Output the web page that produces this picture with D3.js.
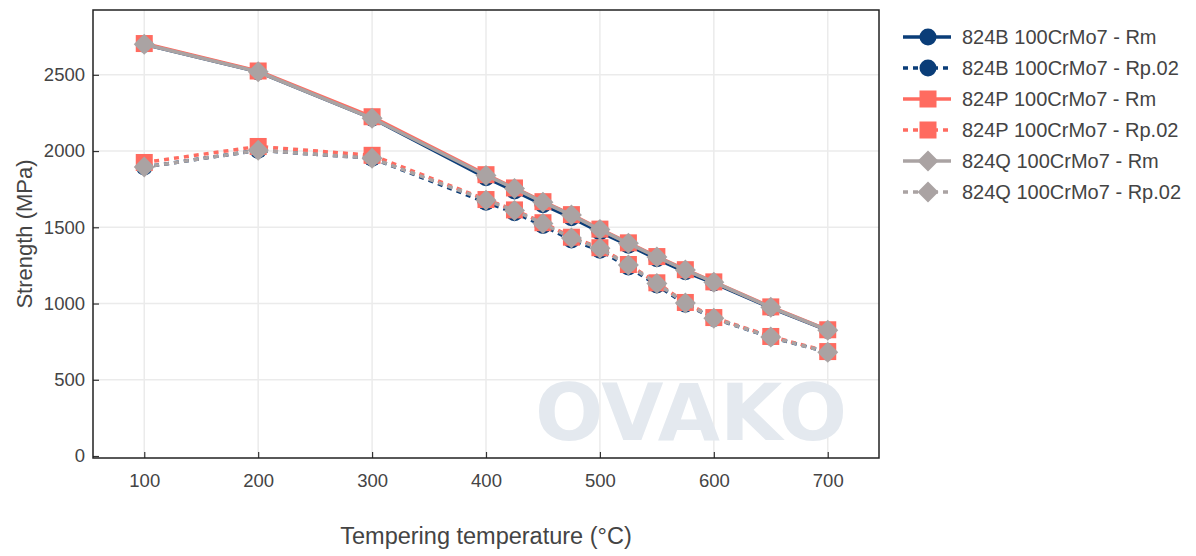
<!DOCTYPE html>
<html>
<head>
<meta charset="utf-8">
<script src="https://cdn.jsdelivr.net/npm/d3@7"></script>
<style>
  body { margin: 0; background: #fff; }
  text { font-family: "Liberation Sans", Arial, sans-serif; }
</style>
</head>
<body>
<div id="chart"></div>
<script>
// data
var temps = [100, 200, 300, 400, 425, 450, 475, 500, 525, 550, 575, 600, 650, 700];

var bRm   = [2700, 2520, 2215, 1825, 1738, 1648, 1563, 1470, 1382, 1293, 1208, 1134, 972, 824];
var bRp02 = [1895, 2005, 1953, 1664, 1596, 1512, 1416, 1349, 1240, 1122, 996, 902, 779, 681];
var pRm   = [2705, 2525, 2225, 1845, 1758, 1668, 1583, 1488, 1398, 1308, 1222, 1142, 978, 828];
var pRp02 = [1925, 2030, 1972, 1682, 1614, 1530, 1435, 1366, 1256, 1136, 1007, 908, 784, 685];
var qRm   = [2700, 2520, 2215, 1840, 1755, 1665, 1580, 1485, 1395, 1305, 1220, 1140, 975, 825];
var qRp02 = [1895, 2005, 1953, 1678, 1610, 1525, 1430, 1362, 1252, 1132, 1003, 904, 780, 681];

var xTicks = [100, 200, 300, 400, 500, 600, 700];
var yTicks = [0, 500, 1000, 1500, 2000, 2500];

var series = [
  { name: "824B 100CrMo7 - Rm",    values: bRm,   color: "#0a3d78", symbol: "circle",  dotted: false },
  { name: "824B 100CrMo7 - Rp.02", values: bRp02, color: "#0a3d78", symbol: "circle",  dotted: true },
  { name: "824P 100CrMo7 - Rm",    values: pRm,   color: "#ff6b60", symbol: "square",  dotted: false },
  { name: "824P 100CrMo7 - Rp.02", values: pRp02, color: "#ff6b60", symbol: "square",  dotted: true },
  { name: "824Q 100CrMo7 - Rm",    values: qRm,   color: "#aaa3a3", symbol: "diamond", dotted: false },
  { name: "824Q 100CrMo7 - Rp.02", values: qRp02, color: "#aaa3a3", symbol: "diamond", dotted: true }
];

var W = 1196, H = 556;
var plot = { left: 93, top: 10, right: 879, bottom: 458 };

var svg = d3.select("#chart").append("svg")
    .attr("width", W)
    .attr("height", H);

var x = d3.scaleLinear().domain([55, 745]).range([plot.left, plot.right]);
var y = d3.scaleLinear().domain([-13, 2925]).range([plot.bottom, plot.top]);

// gridlines
svg.append("g").selectAll("line").data(xTicks).enter().append("line")
    .attr("x1", function(d) { return x(d); }).attr("x2", function(d) { return x(d); })
    .attr("y1", plot.top).attr("y2", plot.bottom)
    .style("stroke", "#ebebeb").style("stroke-width", 1.5);
svg.append("g").selectAll("line").data(yTicks.filter(function(d) { return d > 0; })).enter().append("line")
    .attr("x1", plot.left).attr("x2", plot.right)
    .attr("y1", function(d) { return y(d); }).attr("y2", function(d) { return y(d); })
    .style("stroke", "#ebebeb").style("stroke-width", 1.5);

// watermark
svg.append("text")
    .attr("x", 691).attr("y", 440)
    .attr("text-anchor", "middle")
    .attr("textLength", 312)
    .attr("lengthAdjust", "spacingAndGlyphs")
    .style("font-family", "'DejaVu Sans', sans-serif")
    .style("font-size", "78px")
    .style("font-weight", "bold")
    .style("fill", "#e4e9ef")
    .text("OVAKO");

// axes (ticks inside)
var xAxis = d3.axisBottom(x).tickValues(xTicks).tickSize(-6).tickPadding(16).tickFormat(d3.format("d"));
var yAxis = d3.axisLeft(y).tickValues(yTicks).tickSize(-6).tickPadding(8).tickFormat(d3.format("d"));

var gx = svg.append("g").attr("transform", "translate(0," + plot.bottom + ")").call(xAxis);
var gy = svg.append("g").attr("transform", "translate(" + plot.left + ",0)").call(yAxis);
[gx, gy].forEach(function(g) {
  g.select(".domain").remove();
  g.selectAll("line").style("stroke", "#333").style("stroke-width", 1.2);
  g.selectAll("text").style("font-size", "18.5px").style("fill", "#444")
    .style("font-family", "'Liberation Sans', Arial, sans-serif");
});

// frame
svg.append("rect")
    .attr("x", plot.left).attr("y", plot.top)
    .attr("width", plot.right - plot.left).attr("height", plot.bottom - plot.top)
    .style("fill", "none").style("stroke", "#222").style("stroke-width", 1.5);

// axis titles
svg.append("text")
    .attr("x", 486).attr("y", 544)
    .attr("text-anchor", "middle")
    .style("font-size", "23.5px").style("fill", "#444")
    .text("Tempering temperature (°C)");
svg.append("text")
    .attr("transform", "translate(32," + ((plot.top + plot.bottom) / 2) + ") rotate(-90)")
    .attr("text-anchor", "middle")
    .style("font-size", "22px").style("fill", "#444")
    .text("Strength (MPa)");

// symbol helper
function drawMarker(g, symbol, cx, cy, color) {
  if (symbol === "circle") {
    g.append("circle").attr("cx", cx).attr("cy", cy).attr("r", 8.5).style("fill", color);
  } else if (symbol === "square") {
    g.append("rect").attr("x", cx - 8.5).attr("y", cy - 8.5).attr("width", 17).attr("height", 17).style("fill", color);
  } else {
    var r = 10.5;
    g.append("path")
      .attr("d", "M" + cx + "," + (cy - r) + "L" + (cx + r) + "," + cy + "L" + cx + "," + (cy + r) + "L" + (cx - r) + "," + cy + "Z")
      .style("fill", color);
  }
}

var line = d3.line()
    .x(function(d, i) { return x(temps[i]); })
    .y(function(d) { return y(d); });

// series
var plotG = svg.append("g");
series.forEach(function(s) {
  var g = plotG.append("g");
  g.append("path")
    .attr("d", line(s.values))
    .style("fill", "none")
    .style("stroke", s.color)
    .style("stroke-width", 3.5)
    .style("stroke-dasharray", s.dotted ? "5,5" : null);
  s.values.forEach(function(v, i) {
    drawMarker(g, s.symbol, x(temps[i]), y(v), s.color);
  });
});

// legend
var legend = svg.append("g");
series.forEach(function(s, i) {
  var ly = 37 + i * 31;
  legend.append("line")
    .attr("x1", 903).attr("x2", 951).attr("y1", ly).attr("y2", ly)
    .style("stroke", s.color).style("stroke-width", 3.5)
    .style("stroke-dasharray", s.dotted ? "5,5" : null);
  drawMarker(legend, s.symbol, 928, ly, s.color);
  legend.append("text")
    .attr("x", 962).attr("y", ly + 7)
    .style("font-size", "20px").style("fill", "#444")
    .text(s.name);
});
</script>
</body>
</html>
